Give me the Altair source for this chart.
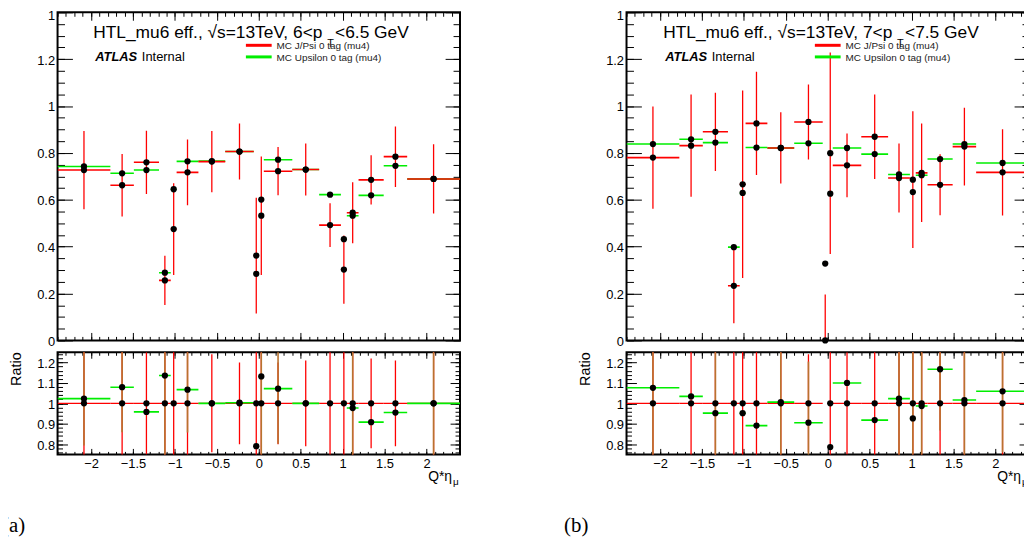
import altair as alt
import pandas as pd

# ---------------- data ----------------
bin_lo = [-2.40, -1.77, -1.49, -1.19, -1.05, -0.98, -0.72, -0.40, -0.06, 0.00,
          0.06, 0.40, 0.72, 0.98, 1.05, 1.19, 1.49, 1.77]
bin_hi = [-1.77, -1.49, -1.19, -1.05, -0.98, -0.72, -0.40, -0.06, 0.00, 0.06,
          0.40, 0.72, 0.98, 1.05, 1.19, 1.49, 1.77, 2.40]

# panel (a): 6 < pT < 6.5 GeV
a_jpsi = [0.727, 0.662, 0.760, 0.256, 0.475, 0.717, 0.763, 0.806, 0.362, 0.532,
          0.722, 0.729, 0.492, 0.302, 0.545, 0.685, 0.784, 0.689]
a_jpsi_err = [0.167, 0.133, 0.135, 0.105, 0.196, 0.140, 0.131, 0.119, 0.247, 0.253,
              0.103, 0.111, 0.093, 0.146, 0.130, 0.105, 0.129, 0.148]
a_ups = [0.742, 0.713, 0.727, 0.289, 0.645, 0.764, 0.765, 0.806, 0.284, 0.601,
         0.771, 0.729, 0.622, 0.432, 0.532, 0.619, 0.745, 0.689]
a_ratio_jpsi = [1.0, 1.0, 1.0, 1.0, 1.0, 1.0, 1.0, 1.0, 1.0, 1.0,
                1.0, 1.0, 1.0, 1.0, 1.0, 1.0, 1.0, 1.0]
a_ratio_jpsi_err = [0.32, 0.28, 0.25, 0.58, 0.58, 0.28, 0.24, 0.20, 0.96, 0.67,
                    0.20, 0.21, 0.27, 0.68, 0.34, 0.22, 0.21, 0.30]
a_ratio_ups = [1.023, 1.079, 0.958, 1.136, None, 1.067, 1.000, 1.003, 0.790, 1.132,
               1.072, 1.000, None, None, 0.977, 0.908, 0.955, 1.000]
a_ratio_ups_err = [0.23, 0.22, 0.0, 0.40, None, 0.21, 0.0, 0.0, 0.0, 0.40,
                   0.27, 0.0, None, None, 0.30, 0.0, 0.0, 0.30]

# panel (b): 7 < pT < 7.5 GeV
b_jpsi = [0.780, 0.831, 0.890, 0.233, 0.666, 0.926, 0.821, 0.932, 0.000, 0.799,
          0.747, 0.869, 0.693, 0.686, 0.715, 0.664, 0.827, 0.717]
b_jpsi_err = [0.218, 0.218, 0.167, 0.160, 0.400, 0.220, 0.152, 0.160, 0.196, 0.430,
              0.136, 0.180, 0.147, 0.292, 0.210, 0.130, 0.166, 0.184]
b_ups = [0.838, 0.858, 0.844, 0.398, 0.629, 0.823, 0.821, 0.841, 0.328, 0.626,
         0.821, 0.795, 0.708, 0.633, 0.705, 0.774, 0.838, 0.757]
b_ratio_jpsi = [1.0, 1.0, 1.0, 1.0, 1.0, 1.0, 1.0, 1.0, None, 1.0,
                1.0, 1.0, 1.0, 1.0, 1.0, 1.0, 1.0, 1.0]
b_ratio_jpsi_err = [0.39, 0.37, 0.26, 0.97, 0.85, 0.34, 0.26, 0.24, None, 0.76,
                    0.25, 0.29, 0.30, 0.60, 0.42, 0.28, 0.28, 0.36]
b_ratio_ups = [1.076, 1.034, 0.952, None, 0.952, 0.891, 1.006, 0.905, None, 0.786,
               1.100, 0.918, 1.023, 0.926, 0.987, 1.167, 1.016, 1.059]
b_ratio_ups_err = [0.40, 0.0, 0.30, None, 0.0, 0.0, 0.30, 0.30, None, 0.0,
                   0.0, 0.0, 0.30, 0.40, 0.30, 0.30, 0.30, 0.30]

# axis ticks / labels
x_major = [-2, -1.5, -1, -0.5, 0, 0.5, 1, 1.5, 2]
x_minor = [round(-2.4 + 0.1 * i, 1) for i in range(49)]
top_major = [0, 0.2, 0.4, 0.6, 0.8, 1.0, 1.2]
top_major_last = [1.4]
top_minor = [round(0.05 * i, 2) for i in range(29)]
rat_major = [0.8, 0.9, 1.0, 1.1, 1.2]
rat_minor = [round(0.76 + 0.02 * i, 2) for i in range(25)]

legend_labels = ["MC J/Psi 0 tag (mu4)", "MC Upsilon 0 tag (mu4)"]
title_a = ["HTL_mu6 eff., \u221as=13TeV, 6<p", "T", "<6.5 GeV"]
title_b = ["HTL_mu6 eff., \u221as=13TeV, 7<p", "T", "<7.5 GeV"]

# ---------------- styling ----------------
W = 406
H_TOP = 331
H_RAT = 103
FONT = "Liberation Sans"
RED = "#ff0000"
GREEN = "#00ee00"
BROWN = "#b8732f"
XS = alt.Scale(domain=[-2.4, 2.4], nice=False, zero=False)
YS_TOP = alt.Scale(domain=[0, 1.4], nice=False, zero=False)
YS_RAT = alt.Scale(domain=[0.75, 1.25], nice=False, zero=False)
one = pd.DataFrame({"k": [0]})


def make_df(jpsi, jerr, ups, rj, rjerr, ru, ruerr):
    df = pd.DataFrame({"lo": bin_lo, "hi": bin_hi, "jpsi": jpsi, "jerr": jerr,
                       "ups": ups, "rj": rj, "rjerr": rjerr, "ru": ru, "ruerr": ruerr},
                      dtype=float)
    df["c"] = (df["lo"] + df["hi"]) / 2
    df["j_lo"] = df["jpsi"] - df["jerr"]
    df["j_hi"] = df["jpsi"] + df["jerr"]
    df["rj_lo"] = df["rj"] - df["rjerr"]
    df["rj_hi"] = df["rj"] + df["rjerr"]
    df["ru_lo"] = df["ru"] - df["ruerr"]
    df["ru_hi"] = df["ru"] + df["ruerr"]
    return df


def tick_axis(orient, values, size, offset):
    return alt.Axis(orient=orient, values=values, offset=offset, labels=False,
                    ticks=True, tickSize=size, tickColor="black", tickWidth=1,
                    domain=False, grid=False, title=None)


def label_axis(orient, values, loff=0):
    return alt.Axis(orient=orient, values=values, format="~g", labels=True,
                    ticks=False, tickSize=0, domain=False, grid=False, title=None,
                    labelFont=FONT, labelFontSize=13, labelColor="black",
                    labelPadding=3, labelOffset=loff, labelFlush=False,
                    labelOverlap=False)


def axis_layers(df, yfield, ys, H, ymaj, ymin, ylen, yminlen, xlen, xminlen,
                xlabels, ylab_vals, ylab_extra=None):
    specs = [
        (label_axis("bottom", x_major) if xlabels else None, label_axis("left", ylab_vals, 1)),
        (tick_axis("top", x_major, xlen, -H), tick_axis("right", ymaj, ylen, -W)),
        (tick_axis("top", x_minor, xminlen, -H), tick_axis("right", ymin, yminlen, -W)),
        (tick_axis("bottom", x_major, xlen, -H), tick_axis("left", ymaj, ylen, -W)),
        (tick_axis("bottom", x_minor, xminlen, -H), tick_axis("left", ymin, yminlen, -W)),
    ]
    if ylab_extra:
        specs.append((None, label_axis("left", ylab_extra, 3)))
    out = []
    for xa, ya in specs:
        out.append(alt.Chart(df).mark_point(opacity=0).encode(
            x=alt.X("c:Q", scale=XS, axis=xa),
            y=alt.Y(f"{yfield}:Q", scale=ys, axis=ya)))
    return out


def txt(s, x, y, size, align="left", baseline="alphabetic", font=FONT,
        color="black", **kw):
    return alt.Chart(one).mark_text(text=s, align=align, baseline=baseline,
                                    font=font, fontSize=size, color=color,
                                    **kw).encode(x=alt.value(x), y=alt.value(y))


def top_chart(df, title, x0):
    base = alt.Chart(df)

    def X(f):
        return alt.X(f"{f}:Q", scale=XS, axis=None)

    def Y(f):
        return alt.Y(f"{f}:Q", scale=YS_TOP, axis=None)

    layers = axis_layers(df, "ups", YS_TOP, H_TOP, top_major + top_major_last,
                         top_minor, 15, 7, 8, 4, False, top_major, top_major_last)
    layers += [
        base.mark_rule(color=RED, strokeWidth=1.3, clip=True).encode(
            x=X("c"), y=Y("j_lo"), y2="j_hi:Q"),
        base.mark_rule(color=GREEN, strokeWidth=1.6, clip=True).encode(
            x=X("lo"), x2="hi:Q", y=Y("ups")),
        base.mark_rule(color=RED, strokeWidth=1.6, clip=True).encode(
            x=X("lo"), x2="hi:Q", y=Y("jpsi")),
        base.mark_circle(color="black", opacity=1, size=40).encode(x=X("c"), y=Y("jpsi")),
        base.mark_circle(color="black", opacity=1, size=40).encode(x=X("c"), y=Y("ups")),
        txt(title[0], x0, 26, 17.5),
        txt(title[1], x0 + 236, 34.5, 11),
        txt(title[2], x0 + 244, 26, 17.5),
        txt("ATLAS", x0 + 2, 49.3, 13, fontStyle="italic", fontWeight="bold"),
        txt("Internal", x0 + 49, 49.3, 13),
        alt.Chart(one).mark_rule(color=RED, strokeWidth=3).encode(
            x=alt.value(190), x2=alt.value(216), y=alt.value(33.3)),
        alt.Chart(one).mark_rule(color=GREEN, strokeWidth=3).encode(
            x=alt.value(190), x2=alt.value(216), y=alt.value(45)),
        txt(legend_labels[0], 221, 34, 10, baseline="middle", color="#222"),
        txt(legend_labels[1], 221, 46.3, 10, baseline="middle", color="#222"),
    ]
    return alt.layer(*layers).resolve_axis(x="independent", y="independent").properties(
        width=W, height=H_TOP)


def ratio_chart(df, tag, tag_x):
    base = alt.Chart(df)

    def X(f):
        return alt.X(f"{f}:Q", scale=XS, axis=None)

    def Y(f):
        return alt.Y(f"{f}:Q", scale=YS_RAT, axis=None)

    layers = axis_layers(df, "rj", YS_RAT, H_RAT, rat_major, rat_minor, 10, 5, 6, 3,
                         True, rat_major)
    layers += [
        base.mark_rule(color=RED, strokeWidth=1.2, clip=True).encode(
            x=X("lo"), x2="hi:Q", y=Y("rj")),
        base.mark_rule(color=RED, strokeWidth=1.3, clip=True).encode(
            x=X("c"), y=Y("rj_lo"), y2="rj_hi:Q"),
        base.mark_rule(color=BROWN, strokeWidth=1.6, clip=True).encode(
            x=X("c"), y=Y("ru_lo"), y2="ru_hi:Q"),
        base.mark_rule(color=GREEN, strokeWidth=1.6, clip=True).encode(
            x=X("lo"), x2="hi:Q", y=Y("ru")),
        base.mark_circle(color="black", opacity=1, size=40).encode(x=X("c"), y=Y("rj")),
        base.mark_circle(color="black", opacity=1, size=40).encode(x=X("c"), y=Y("ru")),
        txt("Ratio", -41, 17, 14.5, align="center", baseline="middle", angle=270),
        txt("Q*\u03b7", W - 8, 129.5, 14, align="right"),
        txt("\u03bc", W - 7, 134, 10),
        txt(tag, tag_x, 181, 21, font="Liberation Serif"),
    ]
    return alt.layer(*layers).resolve_axis(x="independent", y="independent").properties(
        width=W, height=H_RAT)


df_a = make_df(a_jpsi, a_jpsi_err, a_ups, a_ratio_jpsi, a_ratio_jpsi_err,
               a_ratio_ups, a_ratio_ups_err)
df_b = make_df(b_jpsi, b_jpsi_err, b_ups, b_ratio_jpsi, b_ratio_jpsi_err,
               b_ratio_ups, b_ratio_ups_err)

chart = alt.concat(
    top_chart(df_a, title_a, 36),
    top_chart(df_b, title_b, 37),
    ratio_chart(df_a, "(a)", -56),
    ratio_chart(df_b, "(b)", -63),
    columns=2,
    spacing={"row": 12, "column": 168},
    bounds="flush",
).properties(
    padding={"left": -7, "top": -2, "right": -7, "bottom": -2}
).configure_view(stroke="black", strokeWidth=2)

chart.save("out.html", embed_options={"renderer": "svg", "actions": False})
